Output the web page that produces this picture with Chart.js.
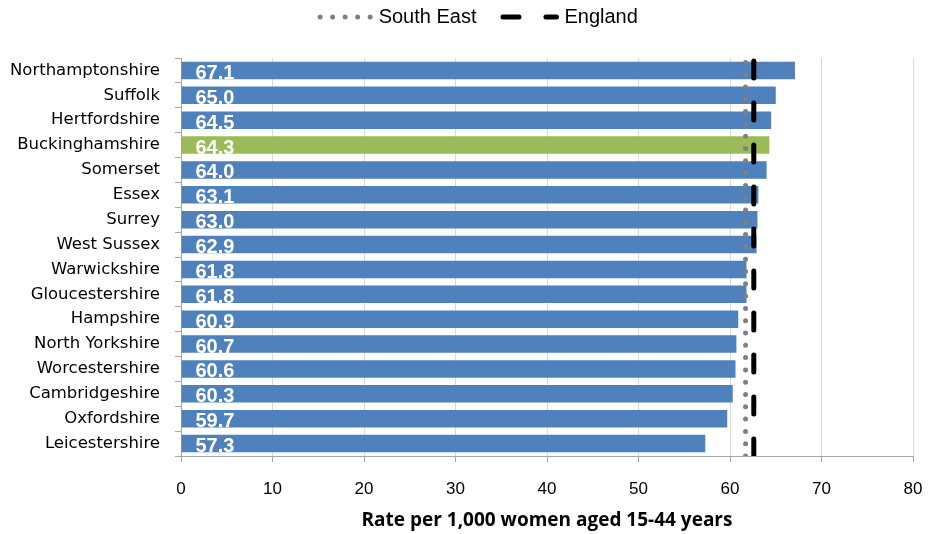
<!DOCTYPE html>
<html>
<head>
<meta charset="utf-8">
<script src="https://cdn.jsdelivr.net/npm/chart.js@4"></script>
<style>
html,body{margin:0;padding:0;background:#fff;}
#wrap{width:930px;height:534px;}
</style>
</head>
<body>
<div id="wrap"><canvas id="barChart"></canvas></div>
<script>

const counties=["Northamptonshire","Suffolk","Hertfordshire","Buckinghamshire","Somerset","Essex","Surrey","West Sussex","Warwickshire","Gloucestershire","Hampshire","North Yorkshire","Worcestershire","Cambridgeshire","Oxfordshire","Leicestershire"];
const rates=[67.1,65.0,64.5,64.3,64.0,63.1,63.0,62.9,61.8,61.8,60.9,60.7,60.6,60.3,59.7,57.3];
const southEast=61.7;
const england=62.6;
const highlight="Buckinghamshire";

const font="'Liberation Sans', Arial, sans-serif";

const barColours=counties.map(c=>c==highlight?"#9BBB59":"#4F81BD");

// white values written inside each bar
const valueLabels={
    id:"valueLabels",
    afterDatasetsDraw(chart){
        const ctx=chart.ctx;
        const meta=chart.getDatasetMeta(0);
        ctx.save();
        ctx.fillStyle="#fff";
        ctx.font="bold 20px "+font;
        ctx.textBaseline="middle";
        meta.data.forEach((bar,i)=>{
            ctx.fillText(rates[i].toFixed(1),bar.base+14,bar.y+3);
        });
        ctx.restore();
    }
};

// legend drawn by hand so the dotted / dashed keys look like the original
const lineLegend={
    id:"lineLegend",
    afterDraw(chart){
        const ctx=chart.ctx;
        const items=chart.data.datasets.slice(1);
        const symW=[50.5,56];
        ctx.save();
        ctx.font="20px "+font;
        const widths=items.map((ds,i)=>symW[i]+8+ctx.measureText(ds.label).width);
        const total=widths[0]+24+widths[1];
        let x=(chart.width-total)/2+14;
        const y=17;
        items.forEach((ds,i)=>{
            ctx.strokeStyle=ds.borderColor;
            ctx.lineWidth=5;
            ctx.lineCap="round";
            ctx.setLineDash(i==0?[0,12.5]:[16,27]);
            ctx.beginPath();
            ctx.moveTo(x+(i==0?0:2.5),y);
            ctx.lineTo(x+symW[i],y);
            ctx.stroke();
            ctx.setLineDash([]);
            ctx.fillStyle="#000";
            ctx.textBaseline="middle";
            ctx.fillText(ds.label,x+symW[i]+8,y);
            x+=widths[i]+24;
        });
        ctx.restore();
    }
};

new Chart(document.getElementById("barChart"),{
    data:{
        labels:counties,
        datasets:[{
            type:"bar",
            indexAxis:"y",
            label:"Rate",
            data:rates,
            backgroundColor:barColours,
            xAxisID:"x",
            yAxisID:"y",
            barPercentage:0.7,
            categoryPercentage:1,
            order:2
        },{
            type:"scatter",
            label:"South East",
            data:[{x:southEast,y:0},{x:southEast,y:1}],
            xAxisID:"x",
            yAxisID:"y2",
            showLine:true,
            borderColor:"#808080",
            borderWidth:5,
            borderDash:[0,12.3],
            borderCapStyle:"round",
            pointRadius:0,
            order:1
        },{
            type:"scatter",
            label:"England",
            data:[{x:england,y:0},{x:england,y:1}],
            xAxisID:"x",
            yAxisID:"y2",
            showLine:true,
            borderColor:"#000",
            borderWidth:5,
            borderDash:[17,25],
            borderCapStyle:"round",
            pointRadius:0,
            order:0
        }]
    },
    options:{
        responsive:true,
        maintainAspectRatio:false,
        animation:false,
        layout:{padding:{left:0,right:7,top:58,bottom:0}},
        scales:{
            x:{
                type:"linear",
                min:0,
                max:80,
                ticks:{stepSize:10,color:"#000",font:{family:font,size:17},padding:17},
                grid:{color:"#d9d9d9",tickLength:6,tickColor:"#a6a6a6"},
                border:{color:"#a6a6a6"},
                title:{display:true,text:"Rate per 1,000 women aged 15-44 years",color:"#000",font:{family:"'Open Sans', sans-serif",size:19,weight:"bold"},padding:{top:2,bottom:2}},
                afterFit(scale){
                    scale.height=78;
                    scale.paddingRight=17;
                }
            },
            y:{
                type:"category",
                ticks:{color:"#000",font:{family:"'DejaVu Sans', sans-serif",size:16.5},padding:15},
                grid:{offset:true,drawOnChartArea:false,tickLength:6,color:"#a6a6a6"},
                border:{color:"#a6a6a6"},
                afterFit(scale){scale.width=181;}
            },
            y2:{
                type:"linear",
                display:false,
                min:0,
                max:1
            }
        },
        plugins:{
            tooltip:{enabled:false},
            legend:{display:false}
        }
    },
    plugins:[valueLabels,lineLegend]
});

</script>
</body>
</html>
